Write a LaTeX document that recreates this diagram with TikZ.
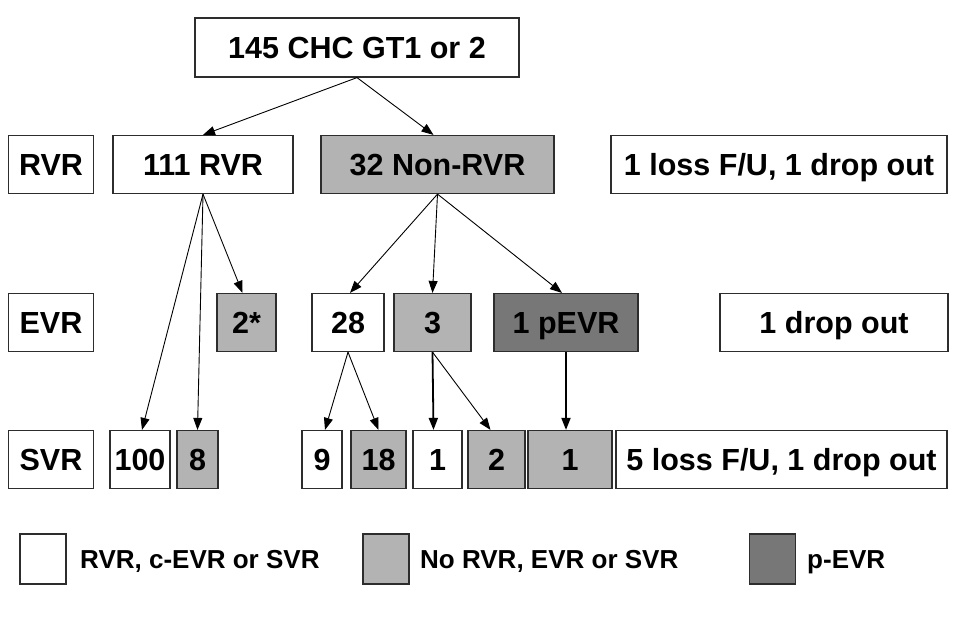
\documentclass[tikz,border=0pt]{standalone}
\usepackage{fontspec}
\setmainfont{Liberation Sans}
\usetikzlibrary{arrows.meta}

\definecolor{lightgrey}{RGB}{179,179,179}
\definecolor{darkgrey}{RGB}{119,119,119}
\definecolor{edge}{RGB}{45,45,45}

\begin{document}
\begin{tikzpicture}[x=1pt,y=-1pt,
  box/.style={draw=edge, line width=1.2pt, fill=white, inner sep=0pt,
    minimum height=58pt, text height=22pt, text depth=0pt,
    font=\fontsize{30.5}{31}\selectfont\bfseries},
  lbox/.style={box, fill=lightgrey},
  dbox/.style={box, fill=darkgrey},
  arr/.style={-{Triangle[length=12pt,width=9pt]}, line width=0.9pt},
  thickarr/.style={arr, line width=1.8pt},
  key/.style={draw=edge, line width=1.2pt, inner sep=0pt,
    minimum width=46pt, minimum height=50pt},
  keytext/.style={anchor=west, inner sep=0pt, text height=18.7pt, text depth=0pt,
    font=\fontsize{26}{27}\selectfont\bfseries}
]
\useasboundingbox (0,0) rectangle (955,619);

% All patients
\node[box, minimum width=324pt, minimum height=59pt] (all) at (357,47.5) {145 CHC GT1 or 2};

% RVR row
\node[box, minimum width=85pt] (rvr) at (51,164.5) {RVR};
\node[box, minimum width=180pt] (r111) at (203,164.5) {111 RVR};
\node[lbox, minimum width=233pt] (r32) at (437.5,164.5) {32 Non-RVR};
\node[box, minimum width=336pt] (rlost) at (779,164.5) {1 loss F/U, 1 drop out};

% EVR row
\node[box, minimum width=85pt] (evr) at (51,322.5) {EVR};
\node[lbox, minimum width=59pt] (e2) at (246.5,322.5) {2*};
\node[box, minimum width=72pt] (e28) at (348,322.5) {28};
\node[lbox, minimum width=77pt] (e3) at (432.5,322.5) {3};
\node[dbox, minimum width=144pt] (ep) at (566,322.5) {1 pEVR};
\node[box, minimum width=228pt] (elost) at (834,322.5) {1 drop out};

% SVR row
\node[box, minimum width=85pt] (svr) at (51,459.5) {SVR};
\node[box, minimum width=60pt] (s100) at (140,459.5) {100};
\node[lbox, minimum width=41pt] (s8) at (197.5,459.5) {8};
\node[box, minimum width=40pt] (s9) at (322,459.5) {9};
\node[lbox, minimum width=55pt] (s18) at (378.5,459.5) {18};
\node[box, minimum width=49pt] (s1) at (437.5,459.5) {1};
\node[lbox, minimum width=57pt] (s2) at (496.5,459.5) {2};
\node[lbox, minimum width=84pt] (s1p) at (570,459.5) {1};
\node[box, minimum width=331pt] (slost) at (781.5,459.5) {5 loss F/U, 1 drop out};

% Arrows
\draw[arr] (all.south) -- (r111.north);
\draw[arr] (all.south) -- ([xshift=-4pt]r32.north);
\draw[arr] (r111.south) -- ([xshift=-4pt]e2.north);
\draw[arr] (r111.south) -- ([xshift=2pt]s100.north);
\draw[arr] (r111.south) -- (s8.north);
\draw[arr] (r32.south) -- ([xshift=2pt]e28.north);
\draw[arr] (r32.south) -- (e3.north);
\draw[arr] (r32.south) -- ([xshift=-4pt]ep.north);
\draw[arr] (e28.south) -- ([xshift=3pt]s9.north);
\draw[arr] (e28.south) -- (s18.north);
\draw[thickarr] (e3.south) -- ([xshift=-4pt]s1.north);
\draw[arr] (e3.south) -- ([xshift=-6pt]s2.north);
\draw[thickarr] (ep.south) -- ([xshift=-4pt]s1p.north);

% Legend
\node[key, fill=white] (k1) at (43,559) {};
\node[keytext] (t1) at (80,559) {RVR, c-EVR or SVR};
\node[key, fill=lightgrey] (k2) at (386,559) {};
\node[keytext] (t2) at (420,559) {No RVR, EVR or SVR};
\node[key, fill=darkgrey] (k3) at (772.5,559) {};
\node[keytext] (t3) at (807,559) {p-EVR};

\end{tikzpicture}
\end{document}
